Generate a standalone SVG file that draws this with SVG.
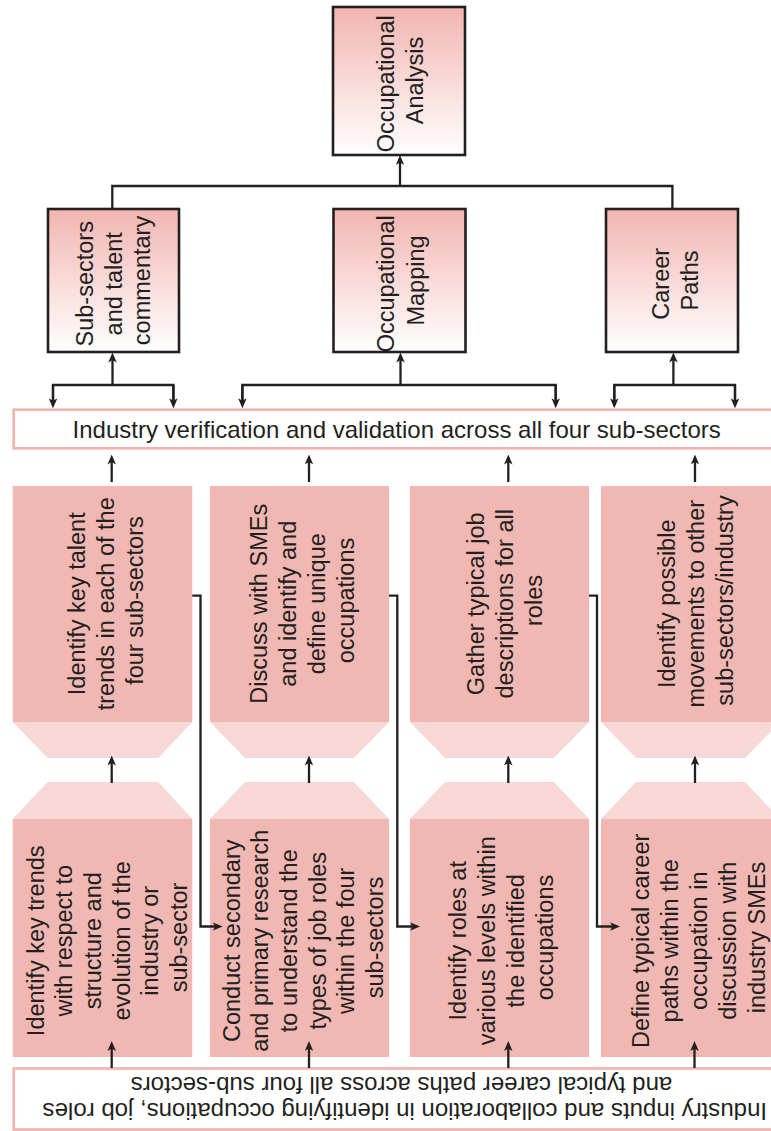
<svg xmlns="http://www.w3.org/2000/svg" width="771" height="1131" viewBox="0 0 771 1131">
  <style>
    text { font-family: "Liberation Sans", Arial, Helvetica, sans-serif; fill: #231f20; }
    .t { font-size: 23.5px; text-anchor: middle; }
    .bar-t { font-size: 24px; text-anchor: middle; }
    .head { fill: url(#headFill); stroke: #231f20; stroke-width: 2.6; }
    .bar { fill: #ffffff; stroke: #f3b4af; stroke-width: 2.7; }
    .step { fill: #f1b8b3; }
    .cap { fill: #f7d8d6; }
    .link { fill: none; stroke: #231f20; stroke-width: 2.3; }
    .arrow { marker-end: url(#arr); }
  </style>
  <defs>
    <linearGradient id="headFill" x1="0" y1="0" x2="0" y2="1">
      <stop offset="0" stop-color="#f2b5b0"/>
      <stop offset="1" stop-color="#ffffff"/>
    </linearGradient>
    <marker id="arr" viewBox="0 0 10 8.5" markerWidth="10" markerHeight="8.5" refX="6" refY="4.25" orient="auto" markerUnits="userSpaceOnUse">
      <path d="M0,0 L10,4.25 L0,8.5 L2.5,4.25 Z" fill="#231f20"/>
    </marker>
  </defs>

  <!-- top-level heading -->
  <g id="occupational-analysis">
    <rect class="head" x="333" y="7" width="132" height="148"/>
    <text class="t" transform="translate(400,80.5) rotate(-90)">
      <tspan x="0" y="-6.35">Occupational</tspan>
      <tspan x="0" y="23.15">Analysis</tspan>
    </text>
  </g>

  <!-- second-level headings -->
  <g id="sub-sectors">
    <rect class="head" x="48" y="209" width="131" height="143"/>
    <text class="t" transform="translate(113.3,280.5) rotate(-90)">
      <tspan x="0" y="-20.1">Sub-sectors</tspan>
      <tspan x="0" y="8.4">and talent</tspan>
      <tspan x="0" y="36.9">commentary</tspan>
    </text>
  </g>
  <g id="occupational-mapping">
    <rect class="head" x="333.5" y="209" width="132" height="143"/>
    <text class="t" transform="translate(400.5,280.5) rotate(-90)">
      <tspan x="0" y="-6.35">Occupational</tspan>
      <tspan x="0" y="23.15">Mapping</tspan>
    </text>
  </g>
  <g id="career-paths">
    <rect class="head" x="606" y="209" width="132" height="143"/>
    <text class="t" transform="translate(675,280.5) rotate(-90)">
      <tspan x="0" y="-6.35">Career</tspan>
      <tspan x="0" y="23.15">Paths</tspan>
    </text>
  </g>

  <!-- validation bar -->
  <g id="validation">
    <rect class="bar" x="13.7" y="409.7" width="775" height="38.6"/>
    <text class="bar-t" x="396.7" y="438.3">Industry verification and validation across all four sub-sectors</text>
  </g>

  <!-- upper row of steps -->
  <g id="talent-trends">
    <rect class="step" x="12.7" y="486" width="179.6" height="236"/>
    <polygon class="cap" points="12.7,722 192.3,722 158.3,758 47.7,758"/>
    <text class="t" transform="translate(105.5,600.5) rotate(-90)">
      <tspan x="0" y="-20.6">Identify key talent</tspan>
      <tspan x="0" y="8.4">trends in each of the</tspan>
      <tspan x="0" y="37.4">four sub-sectors</tspan>
    </text>
  </g>
  <g id="unique-occupations">
    <rect class="step" x="210" y="486" width="179" height="236"/>
    <polygon class="cap" points="210,722 389,722 354,758 245,758"/>
    <text class="t" transform="translate(302.5,600.5) rotate(-90)">
      <tspan x="0" y="-35.1">Discuss with SMEs</tspan>
      <tspan x="0" y="-6.1">and identify and</tspan>
      <tspan x="0" y="22.9">define unique</tspan>
      <tspan x="0" y="51.9">occupations</tspan>
    </text>
  </g>
  <g id="job-descriptions">
    <rect class="step" x="410" y="486" width="179" height="236"/>
    <polygon class="cap" points="410,722 589,722 554,758 445,758"/>
    <text class="t" transform="translate(505,600.5) rotate(-90)">
      <tspan x="0" y="-20.6">Gather typical job</tspan>
      <tspan x="0" y="8.4">descriptions for all</tspan>
      <tspan x="0" y="37.4">roles</tspan>
    </text>
  </g>
  <g id="movements">
    <rect class="step" x="601" y="486" width="179" height="236"/>
    <polygon class="cap" points="601,722 780,722 745,758 636,758"/>
    <text class="t" transform="translate(695.6,600.5) rotate(-90)">
      <tspan x="0" y="-20.6">Identify possible</tspan>
      <tspan x="0" y="8.4">movements to other</tspan>
      <tspan x="0" y="37.4">sub-sectors/industry</tspan>
    </text>
  </g>

  <!-- lower row of steps -->
  <g id="key-trends">
    <polygon class="cap" points="47.7,782 158.3,782 192.3,819 12.7,819"/>
    <rect class="step" x="12.7" y="819" width="179.6" height="238"/>
    <text class="t" transform="translate(107,937.5) rotate(-90)">
      <tspan x="0" y="-63.35">Identify key trends</tspan>
      <tspan x="0" y="-34.65">with respect to</tspan>
      <tspan x="0" y="-5.95">structure and</tspan>
      <tspan x="0" y="22.75">evolution of the</tspan>
      <tspan x="0" y="51.45">industry or</tspan>
      <tspan x="0" y="80.15">sub-sector</tspan>
    </text>
  </g>
  <g id="research">
    <polygon class="cap" points="245,782 354,782 389,819 210,819"/>
    <rect class="step" x="210" y="819" width="179" height="238"/>
    <text class="t" transform="translate(303,937.5) rotate(-90)">
      <tspan x="0" y="-63.35">Conduct secondary</tspan>
      <tspan x="0" y="-34.65">and primary research</tspan>
      <tspan x="0" y="-5.95">to understand the</tspan>
      <tspan x="0" y="22.75">types of job roles</tspan>
      <tspan x="0" y="51.45">within the four</tspan>
      <tspan x="0" y="80.15">sub-sectors</tspan>
    </text>
  </g>
  <g id="role-levels">
    <polygon class="cap" points="445,782 554,782 589,819 410,819"/>
    <rect class="step" x="410" y="819" width="179" height="238"/>
    <text class="t" transform="translate(501.3,937.5) rotate(-90)">
      <tspan x="0" y="-35.1">Identify roles at</tspan>
      <tspan x="0" y="-6.1">various levels within</tspan>
      <tspan x="0" y="22.9">the identified</tspan>
      <tspan x="0" y="51.9">occupations</tspan>
    </text>
  </g>
  <g id="career-definition">
    <polygon class="cap" points="636,782 745,782 780,819 601,819"/>
    <rect class="step" x="601" y="819" width="179" height="238"/>
    <text class="t" transform="translate(699,937.5) rotate(-90)">
      <tspan x="0" y="-49.6">Define typical career</tspan>
      <tspan x="0" y="-20.6">paths within the</tspan>
      <tspan x="0" y="8.4">occupation in</tspan>
      <tspan x="0" y="37.4">discussion with</tspan>
      <tspan x="0" y="66.4">industry SMEs</tspan>
    </text>
  </g>

  <!-- input bar (printed upside down) -->
  <g id="industry-inputs">
    <rect class="bar" x="13.7" y="1068.5" width="775" height="61"/>
    <text class="bar-t" transform="translate(401.5,1090) rotate(180)">
      <tspan x="0" y="-13">Industry inputs and collaboration in identifying occupations, job roles</tspan>
      <tspan x="0" y="13">and typical career paths across all four sub-sectors</tspan>
    </text>
  </g>

  <!-- connectors -->
  <g id="connectors">
    <path class="link arrow" d="M400,186 V159"/>
    <path class="link" d="M112.3,209 V186 H672.4 V209"/>

    <path class="link" d="M53,404.3 V385 H173.4 V404.3"/>
    <path class="link arrow" d="M53,385 V404.3"/>
    <path class="link arrow" d="M173.4,385 V404.3"/>
    <path class="link arrow" d="M112.5,385 V356.5"/>

    <path class="link" d="M242.4,404.3 V385 H555.7 V404.3"/>
    <path class="link arrow" d="M242.4,385 V404.3"/>
    <path class="link arrow" d="M555.7,385 V404.3"/>
    <path class="link arrow" d="M400.5,385 V356.5"/>

    <path class="link" d="M614.3,404.3 V385 H735 V404.3"/>
    <path class="link arrow" d="M614.3,385 V404.3"/>
    <path class="link arrow" d="M735,385 V404.3"/>
    <path class="link arrow" d="M673.4,385 V356.5"/>

    <path class="link arrow" d="M111.7,482 V458.5"/>
    <path class="link arrow" d="M309,482 V458.5"/>
    <path class="link arrow" d="M508.3,482 V458.5"/>
    <path class="link arrow" d="M695,482 V458.5"/>

    <path class="link arrow" d="M111.7,783 V759.5"/>
    <path class="link arrow" d="M309,783 V759.5"/>
    <path class="link arrow" d="M508.3,783 V759.5"/>
    <path class="link arrow" d="M695,783 V759.5"/>

    <path class="link arrow" d="M111.7,1068 V1045"/>
    <path class="link arrow" d="M309,1068 V1045"/>
    <path class="link arrow" d="M508.3,1068 V1045"/>
    <path class="link arrow" d="M694.5,1068 V1045"/>

    <path class="link arrow" d="M192.3,595.7 H200.5 V926.5 H218.7"/>
    <path class="link arrow" d="M389,595.7 H397.3 V926.5 H416"/>
    <path class="link arrow" d="M589,595.7 H597 V926.5 H616"/>
  </g>
</svg>
